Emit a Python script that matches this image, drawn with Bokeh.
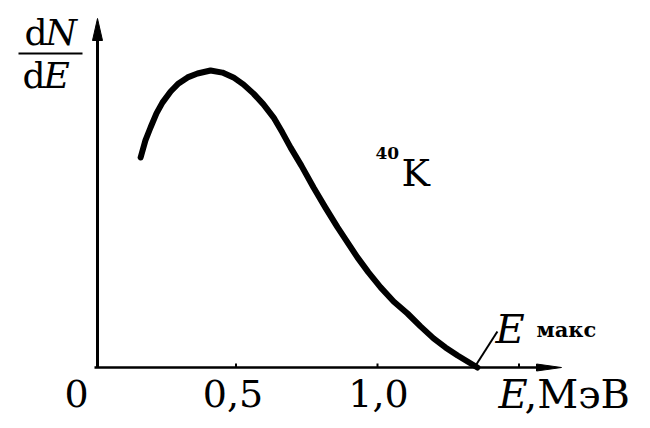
from bokeh.plotting import figure
from bokeh.models import Range1d, ColumnDataSource
from bokeh.core.properties import value
from bokeh.embed import file_html
from bokeh.resources import INLINE

# ---- data ----
energy_mev = [0.163, 0.180, 0.198, 0.219, 0.240, 0.269, 0.297, 0.329, 0.364,
              0.410, 0.452, 0.491, 0.527, 0.562, 0.597, 0.633, 0.664, 0.693,
              0.731, 0.774, 0.816, 0.859, 0.894, 0.929, 0.968, 1.011, 1.057,
              1.106, 1.152, 1.198, 1.240, 1.283, 1.318, 1.353]
dn_de = [0.700, 0.757, 0.800, 0.847, 0.883, 0.920, 0.947, 0.967, 0.980,
         0.990, 0.983, 0.967, 0.943, 0.913, 0.877, 0.833, 0.783, 0.733,
         0.673, 0.600, 0.533, 0.467, 0.417, 0.367, 0.317, 0.267, 0.220,
         0.180, 0.137, 0.097, 0.067, 0.040, 0.020, 0.000]
tick_values = [0.5, 1.0, 1.5]
tick_labels = ["0", "0,5", "1,0"]
tick_label_pos = [0.0, 0.5, 1.0]
e_max = 1.353

# ---- layout constants (pixels of the reference) ----
PX_PER_MEV = 283.0
PX_PER_UNIT = 300.0
W, H = 650, 428
X0C, Y0C = 94.0, 367.0   # canvas position of the origin

def dx(px):
    return px / PX_PER_MEV

def dy(px):
    return px / PX_PER_UNIT

S = 13  # text baseline correction (px)
FONT = value("DejaVu Serif")

p = figure(width=W, height=H, output_backend="svg", toolbar_location=None,
           x_range=Range1d(-X0C / PX_PER_MEV, (W - X0C) / PX_PER_MEV),
           y_range=Range1d(-(H - Y0C) / PX_PER_UNIT, Y0C / PX_PER_UNIT),
           x_axis_type=None, y_axis_type=None, min_border=0)
p.grid.visible = False
p.outline_line_color = None
p.background_fill_color = "white"
p.border_fill_color = "white"

# axes
x_tip = dx(467)
y_tip = dy(349)
p.segment(x0=[0, dx(3)], y0=[0, 0], x1=[x_tip - dx(10), dx(3)],
          y1=[0, y_tip - dy(10)], line_color="black",
          line_width=[2.5, 3])
# arrow heads
p.patch([x_tip, x_tip - dx(25), x_tip - dx(25)],
        [0, dy(3.5), -dy(3.5)], color="black")
p.patch([dx(3), dx(3) - dx(5), dx(3) + dx(5)],
        [y_tip, y_tip - dy(22), y_tip - dy(22)], color="black")
# small ticks
p.segment(x0=tick_values, y0=[0] * 3, x1=tick_values, y1=[dy(4)] * 3,
          line_color="black", line_width=2)

# tick labels
offs = [-dx(18), -dx(3), dx(1)]
p.text(x=[v + o for v, o in zip(tick_label_pos, offs)], y=[-dy(39 - S)] * 3,
       text=tick_labels, text_font=FONT, text_font_size=value("38px"),
       text_align="center", text_baseline="alphabetic", text_color="black")

# x-axis title
p.text(x=[dx(404)], y=[-dy(39 - S)], text=["E"], text_font=FONT,
       text_font_style="italic", text_font_size=value("40px"),
       text_baseline="alphabetic", text_color="black")
p.text(x=[dx(430)], y=[-dy(39 - S)], text=[",МэВ"], text_font=FONT,
       text_font_size=value("40px"), text_baseline="alphabetic",
       text_color="black")

# y-axis title: dN / dE
p.text(x=[-dx(70)], y=[dy(322 + S)], text=["d"], text_font=FONT,
       text_font_size=value("36px"), text_baseline="alphabetic", text_color="black")
p.text(x=[-dx(49)], y=[dy(322 + S)], text=["N"], text_font=FONT, text_font_style="italic",
       text_font_size=value("36px"), text_baseline="alphabetic", text_color="black")
p.segment(x0=[-dx(76)], y0=[dy(314)], x1=[-dx(12)], y1=[dy(314)],
          line_color="black", line_width=2)
p.text(x=[-dx(72)], y=[dy(279 + S)], text=["d"], text_font=FONT,
       text_font_size=value("36px"), text_baseline="alphabetic", text_color="black")
p.text(x=[-dx(51)], y=[dy(279 + S)], text=["E"], text_font=FONT, text_font_style="italic",
       text_font_size=value("36px"), text_baseline="alphabetic", text_color="black")

# spectrum curve
src = ColumnDataSource(dict(E=energy_mev, N=dn_de))
p.line("E", "N", source=src, line_color="black", line_width=6,
       line_cap="round", line_join="round")

# 40K label
p.text(x=[dx(281)], y=[dy(202 + S)], text=["40"], text_font=FONT, text_font_style="bold",
       text_font_size=value("17px"), text_baseline="alphabetic", text_color="black")
p.text(x=[dx(307)], y=[dy(182 + S)], text=["K"], text_font=FONT,
       text_font_size=value("38px"), text_baseline="alphabetic", text_color="black")

# E max pointer and label
p.segment(x0=[e_max - dx(3)], y0=[0], x1=[e_max + dx(20)], y1=[dy(36)],
          line_color="black", line_width=2)
p.text(x=[dx(401)], y=[dy(24 + S + 2)], text=["E"], text_font=FONT, text_font_style="italic",
       text_font_size=value("40px"), text_baseline="alphabetic", text_color="black")
p.text(x=[dx(442)], y=[dy(25 + S)], text=["макс"], text_font=FONT, text_font_style="bold",
       text_font_size=value("21px"), text_baseline="alphabetic", text_color="black")

open("out.html", "w").write(file_html(p, INLINE))
